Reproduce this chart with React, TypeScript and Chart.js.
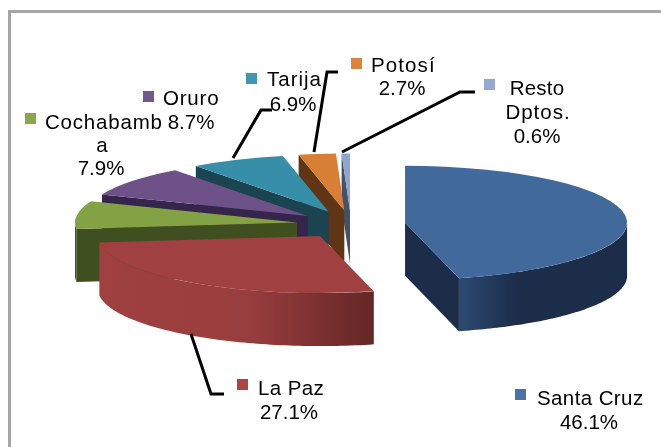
import React, { useEffect, useRef } from "react";
import { Chart, registerables } from "chart.js";

Chart.register(...registerables);

const departments = ["Santa Cruz", "La Paz", "Cochabamba", "Oruro", "Tarija", "Potosí", "Resto Dptos."];
const shares = [46.1, 27.1, 7.9, 8.7, 6.9, 2.7, 0.6];

const topColors = ["#41699c", "#a04040", "#83a243", "#6f5189", "#378ea8", "#d67f35", "#8fa5cf"];
const sideColors = ["#1b2d49", "#652626", "#3f4f20", "#35254a", "#1a4450", "#5f3515", "#435269"];
const wallStops: ([number, string][] | null)[] = [
  [[0, "#2d4a72"], [0.35, "#1b2d49"], [1, "#1b2d49"]],
  [[0, "#a04040"], [0.55, "#983d3d"], [1, "#642626"]],
  null, null, null, null, null,
];
const markerColors = ["#4a72a8", "#ad4343", "#8ca74a", "#71588f", "#3f98b0", "#dc8439", "#94a8d0"];

// painter's order, back to front
const drawOrder = [6, 5, 4, 3, 2, 1, 0];

const SQUASH = 0.257;
const DEPTH = 53;
const EXPLODE = 54.5;
const FONT = '20.5px "Liberation Sans"';

type Line = { t: string; x: number; y: number; align: CanvasTextAlign; ls?: number };
type Label = { marker: [number, number]; lines: Line[] };
const labelLayout: Label[] = [
  { marker: [515, 389], lines: [{ t: "Santa Cruz", x: 537, y: 405, align: "left", ls: 0.4 }, { t: "46.1%", x: 589, y: 429, align: "center" }] },
  { marker: [237, 379], lines: [{ t: "La Paz", x: 258, y: 395, align: "left", ls: 0.4 }, { t: "27.1%", x: 289, y: 419, align: "center" }] },
  { marker: [25, 113], lines: [{ t: "Cochabamb", x: 45, y: 129, align: "left", ls: 0.8 }, { t: "a", x: 102, y: 152, align: "center" }, { t: "7.9%", x: 101, y: 175, align: "center" }] },
  { marker: [143, 91], lines: [{ t: "Oruro", x: 163, y: 105, align: "left", ls: 0.8 }, { t: "8.7%", x: 191, y: 129, align: "center" }] },
  { marker: [246, 73], lines: [{ t: "Tarija", x: 267, y: 86, align: "left", ls: 1 }, { t: "6.9%", x: 293, y: 111, align: "center" }] },
  { marker: [351, 58], lines: [{ t: "Potosí", x: 371, y: 72, align: "left", ls: 1.1 }, { t: "2.7%", x: 402, y: 95, align: "center" }] },
  { marker: [484, 79], lines: [{ t: "Resto", x: 537, y: 95, align: "center", ls: 0.2 }, { t: "Dptos.", x: 538, y: 119, align: "center", ls: 1 }, { t: "0.6%", x: 537, y: 143, align: "center" }] },
];
const leaderLines: [number, number][][] = [
  [[191, 334], [211, 394], [224, 394]],
  [[233, 158], [261, 110], [272, 110]],
  [[314, 152], [327, 72], [338, 72]],
  [[342, 152], [460, 92], [475, 92]],
];

const pie3d = {
  id: "pie3d",
  beforeDatasetsDraw(chart: any) {
    const ctx: CanvasRenderingContext2D = chart.ctx;
    const arcs = chart.getDatasetMeta(0).data;
    for (const i of drawOrder) {
      const arc = arcs[i];
      const { x, y, startAngle, endAngle, outerRadius: R } = arc;
      const mid = (startAngle + endAngle) / 2;
      const cx = x + Math.cos(mid) * EXPLODE;
      const cy = y + Math.sin(mid) * EXPLODE * SQUASH;
      const P = (a: number, dy = 0): [number, number] => [cx + R * Math.cos(a), cy + R * Math.sin(a) * SQUASH + dy];

      const face = (a: number) => {
        const p = P(a);
        ctx.beginPath();
        ctx.moveTo(cx, cy);
        ctx.lineTo(p[0], p[1]);
        ctx.lineTo(p[0], p[1] + DEPTH);
        ctx.lineTo(cx, cy + DEPTH);
        ctx.closePath();
        ctx.fillStyle = sideColors[i];
        ctx.fill();
      };
      if (Math.cos(startAngle) < -1e-6) face(startAngle);
      if (Math.cos(endAngle) > 1e-6) face(endAngle);

      // outer wall, only the part facing the viewer
      const from = Math.max(startAngle, 0);
      const to = Math.min(endAngle, Math.PI);
      if (to > from) {
        const steps = 80;
        ctx.beginPath();
        let minX = Infinity, maxX = -Infinity;
        for (let s = 0; s <= steps; s++) {
          const p = P(from + ((to - from) * s) / steps);
          minX = Math.min(minX, p[0]);
          maxX = Math.max(maxX, p[0]);
          s === 0 ? ctx.moveTo(p[0], p[1]) : ctx.lineTo(p[0], p[1]);
        }
        for (let s = steps; s >= 0; s--) {
          const p = P(from + ((to - from) * s) / steps, DEPTH);
          ctx.lineTo(p[0], p[1]);
        }
        ctx.closePath();
        const stops = wallStops[i];
        if (stops) {
          const g = ctx.createLinearGradient(minX, 0, maxX, 0);
          stops.forEach(([o, c]) => g.addColorStop(o, c));
          ctx.fillStyle = g;
        } else {
          ctx.fillStyle = sideColors[i];
        }
        ctx.fill();
      }

      // top surface: the library's own arc, moved out and squashed
      ctx.save();
      ctx.translate(cx - x, cy);
      ctx.scale(1, SQUASH);
      ctx.translate(0, -y);
      arc.draw(ctx);
      ctx.restore();
    }
    return false;
  },
  afterDraw(chart: any) {
    const ctx: any = chart.ctx;
    ctx.save();
    ctx.strokeStyle = "#000";
    ctx.lineWidth = 3;
    ctx.lineJoin = "miter";
    for (const line of leaderLines) {
      ctx.beginPath();
      line.forEach(([px, py], n) => (n === 0 ? ctx.moveTo(px, py) : ctx.lineTo(px, py)));
      ctx.stroke();
    }
    ctx.font = FONT;
    ctx.textBaseline = "alphabetic";
    labelLayout.forEach((l, i) => {
      ctx.fillStyle = markerColors[i];
      ctx.fillRect(l.marker[0], l.marker[1], 11, 11);
      ctx.fillStyle = "#000";
      l.lines.forEach((line) => {
        ctx.textAlign = line.align;
        ctx.letterSpacing = `${line.ls ?? 0}px`;
        ctx.fillText(line.t, line.x, line.y);
      });
    });
    ctx.restore();
  },
};

export default function App() {
  const ref = useRef<HTMLCanvasElement>(null);
  useEffect(() => {
    document.body.style.margin = "0";
    document.body.style.background = "#fff";
    const chart = new Chart(ref.current!, {
      type: "pie",
      data: {
        labels: departments,
        datasets: [{
          data: shares,
          backgroundColor: topColors,
          borderWidth: 0,
          radius: 222,
        }],
      },
      options: {
        responsive: false,
        animation: false,
        layout: { padding: { left: 41, top: 2 } },
        plugins: { legend: { display: false }, tooltip: { enabled: false } },
      },
      plugins: [pie3d],
    } as any);
    return () => chart.destroy();
  }, []);
  return (
    <div style={{ position: "relative", width: 661, height: 447, overflow: "hidden", background: "#fff" }}>
      <div style={{ position: "absolute", left: 8, top: 10, width: 700, height: 500, border: "3px solid #a6a6a6" }} />
      <canvas ref={ref} width={661} height={447} style={{ position: "absolute", left: 0, top: 0, filter: "blur(0.5px)" }} />
    </div>
  );
}
